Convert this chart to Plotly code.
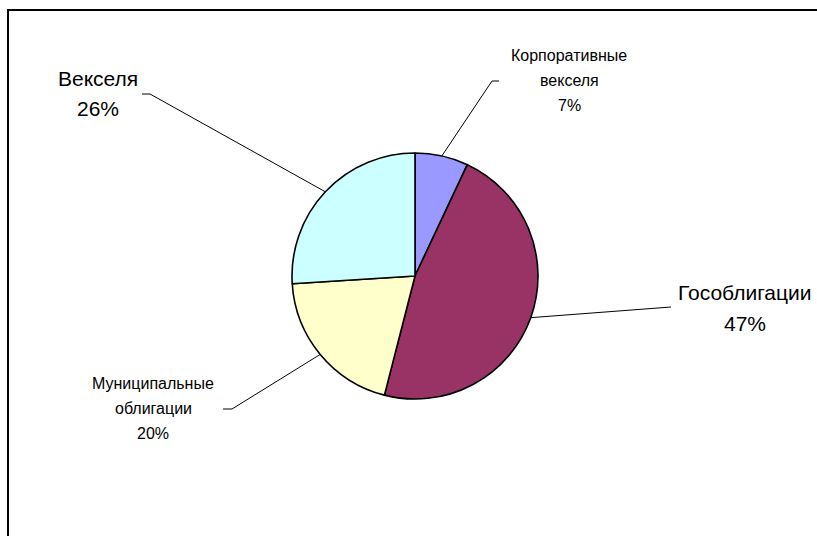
import math
import plotly.graph_objects as go

# Portfolio structure
categories = ["Корпоративные векселя", "Гособлигации", "Муниципальные облигации", "Векселя"]
shares = [7, 47, 20, 26]
colors = ["#9999FF", "#993366", "#FFFFCC", "#CCFFFF"]

# Label lines for each slice (name lines, percentage added after)
label_lines = [["Корпоративные", "векселя"], ["Гособлигации"], ["Муниципальные", "облигации"], ["Векселя"]]

W, H = 817, 536
CX, CY, R = 415, 276, 123  # pie centre and radius in pixels

# Label placement (pixel positions) and leader-line elbows
label_pos = [(569, 55), (745, 292), (153, 383), (98, 79)]
label_size = [16, 21, 16, 21]
label_step = [25, 31, 25, 29]
elbows = [((492, 81), (499, 81)), ((671, 307), (671, 307)),
          ((232, 409), (223, 409)), ((150, 94), (142, 94))]


def px(x):
    return x / W


def py(y):
    return 1 - y / H


fig = go.Figure(go.Pie(
    labels=categories,
    values=shares,
    sort=False,
    direction="clockwise",
    rotation=0,
    marker=dict(colors=colors, line=dict(color="black", width=1.6)),
    textinfo="none",
    hoverinfo="label+percent",
    showlegend=False,
    domain=dict(x=[px(CX - R), px(CX + R)], y=[py(CY + R), py(CY - R)]),
))

annotations = []
shapes = []
total = sum(shares)
cum = 0
for i, v in enumerate(shares):
    mid = (cum + v / 2) / total * 2 * math.pi
    cum += v
    sx = CX + R * math.sin(mid)
    sy = CY - R * math.cos(mid)
    (ex, ey), (hx, hy) = elbows[i]
    shapes.append(dict(type="line", xref="paper", yref="paper",
                       x0=px(sx), y0=py(sy), x1=px(ex), y1=py(ey),
                       line=dict(color="black", width=1)))
    if (hx, hy) != (ex, ey):
        shapes.append(dict(type="line", xref="paper", yref="paper",
                           x0=px(ex), y0=py(ey), x1=px(hx), y1=py(hy),
                           line=dict(color="black", width=1)))
    pct = round(v / total * 100)
    lines = label_lines[i] + [f"{pct}%"]
    lx, ly = label_pos[i]
    for k, t in enumerate(lines):
        annotations.append(dict(
            text=t, xref="paper", yref="paper",
            x=px(lx), y=py(ly + k * label_step[i]),
            xanchor="center", yanchor="middle", showarrow=False,
            font=dict(family="Arial, Liberation Sans, sans-serif",
                      size=label_size[i], color="black"),
        ))

# Chart area frame (extends past the visible page on right and bottom)
shapes.append(dict(type="rect", xref="paper", yref="paper",
                   x0=px(8), y0=-0.1, x1=1.1, y1=py(10),
                   line=dict(color="black", width=2), fillcolor="rgba(0,0,0,0)"))

fig.update_layout(
    width=W, height=H,
    margin=dict(l=0, r=0, t=0, b=0),
    paper_bgcolor="white",
    plot_bgcolor="white",
    annotations=annotations,
    shapes=shapes,
)

fig.write_html("out.html")
